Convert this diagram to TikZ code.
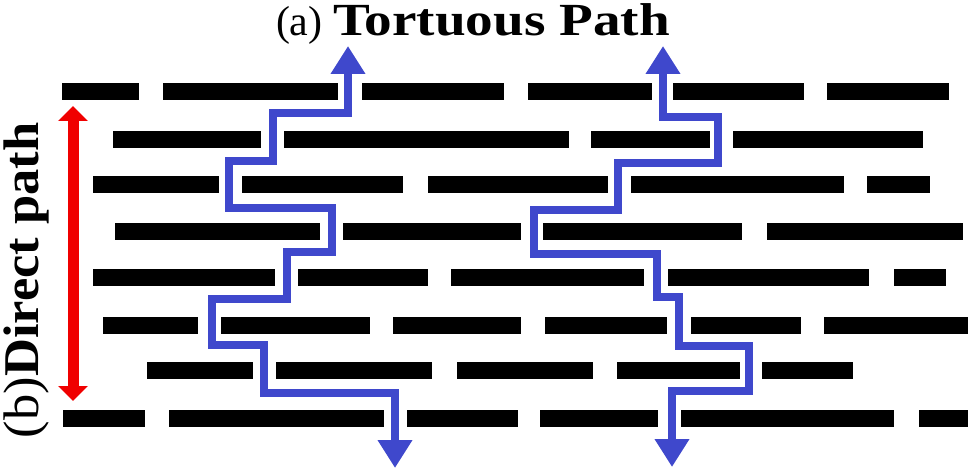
\documentclass[tikz,border=0pt]{standalone}
\usepackage{fontspec}
\usepackage{graphicx}
\setmainfont{Liberation Serif}
\usetikzlibrary{arrows.meta}
\definecolor{pathblue}{RGB}{63,72,204}
\definecolor{arrred}{RGB}{240,0,0}
\tikzset{
  bar/.style={fill=black},
  tort/.style={draw=pathblue, line width=8pt, line join=miter,
    {Triangle[width=33pt,length=28pt]}-{Triangle[width=33pt,length=28pt]}},
  direct/.style={draw=arrred, line width=11pt,
    {Triangle[width=29pt,length=15pt]}-{Triangle[width=29pt,length=15pt]}},
  lbl/.style={inner sep=0pt, outer sep=0pt}
}
\newcommand{\barrow}[2]{%
  \foreach \a/\b in {#2}{\fill[bar] (\a,#1-8.5) rectangle (\b,#1+8.5);}}
\begin{document}
\begin{tikzpicture}[x=1pt,y=-1pt]
\useasboundingbox (0,0) rectangle (969,470);
% bars
\barrow{92}{62/139,163/338,362/504,528/652,673/804,827/949}
\barrow{139.5}{113/261,284/569,591/710,733/923}
\barrow{184.5}{93/219,242/403,428/608,631/844,867/930}
\barrow{231.5}{115/320,343/521,543/742,767/963}
\barrow{277.5}{93/275,298/428,451/644,668/869,894/946}
\barrow{325}{103/198,221/370,393/521,545/667,691/801,824/968}
\barrow{370.5}{147/253,276/432,457/593,617/740,762/853}
\barrow{418}{63/145,169/384,407/518,540/658,681/894,919/968}
% tortuous paths
\coordinate (t1top) at (348,46);
\coordinate (t1bot) at (395,468);
\coordinate (t2top) at (663,46);
\coordinate (t2bot) at (672,467);
\draw[tort] (t1top) -- (348,113) -- (273,113) -- (273,161) -- (229,161) -- (229,208)
  -- (332,208) -- (332,252) -- (287,252) -- (287,299) -- (212,299) -- (212,345)
  -- (264,345) -- (264,393) -- (395,393) -- (t1bot);
\draw[tort] (t2top) -- (663,117) -- (718,117) -- (718,163) -- (618,163) -- (618,210)
  -- (534,210) -- (534,254) -- (657,254) -- (657,297) -- (679,297) -- (679,346)
  -- (749,346) -- (749,391) -- (672,391) -- (t2bot);
% direct path
\coordinate (dtop) at (73,106);
\coordinate (dbot) at (73,401);
\draw[direct] (dtop) -- (dbot);
% labels
\node[lbl, anchor=base west] (a) at (276,36) {\fontsize{42}{44}\selectfont (a)};
\node[lbl, anchor=base west] (tp) at (333,36) {\scalebox{1.2}[1]{\fontsize{46}{48}\selectfont\bfseries Tortuous Path}};
\node[lbl, anchor=base west, rotate=90] (b) at (38,438) {\scalebox{1.05}[1]{\fontsize{50}{52}\selectfont (b)\textbf{Direct path}}};
\end{tikzpicture}
\end{document}
